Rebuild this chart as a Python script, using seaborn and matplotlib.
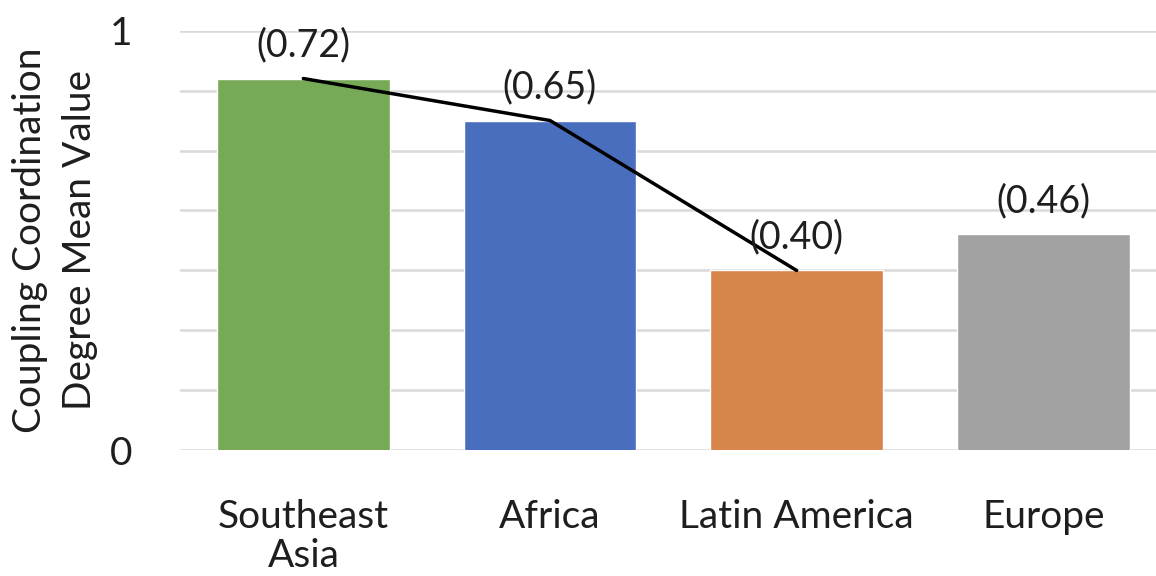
import numpy as np
import pandas as pd
import matplotlib
matplotlib.use("Agg")
import matplotlib.pyplot as plt
import seaborn as sns

# Regional coupling coordination degree means
regions = ["Southeast\nAsia", "Africa", "Latin America", "Europe"]
mean_values = [0.72, 0.65, 0.40, 0.46]
value_labels = ["(0.72)", "(0.65)", "(0.40)", "(0.46)"]
bar_colors = ["#77AA57", "#4A6EBE", "#D8854C", "#A2A2A2"]
trend_regions = 3  # trend line joins the first three regions
grid_levels = [0.1, 0.2, 0.3, 0.4, 0.5, 0.6, 0.7, 0.8]
end_tick_labels = ["0", "1"]
y_title = "Coupling Coordination\nDegree Mean Value"

sns.set_theme(style="white")
plt.rcParams["font.family"] = ["Lato", "DejaVu Sans"]
text_color = "#1E1E1E"

df = pd.DataFrame({"region": regions, "value": mean_values})

fig = plt.figure(figsize=(11.56, 5.76), dpi=100)
ax_bottom, ax_height = 0.218, 0.729
ax = fig.add_axes([0.1557, ax_bottom, 0.8535, ax_height])

sns.barplot(data=df, x="region", y="value", hue="region",
            palette=bar_colors, width=0.70, saturation=1,
            legend=False, ax=ax, zorder=3)

# trend line through the tops of the first three bars
ax.plot(range(trend_regions), mean_values[:trend_regions],
        color="black", lw=2.5, zorder=4, solid_capstyle="round")

for i, (v, lab) in enumerate(zip(mean_values, value_labels)):
    ax.annotate(lab, (i, v), xytext=(0, 24), textcoords="offset points",
                ha="center", va="center", fontsize=27, color=text_color,
                zorder=5)

ax.set_ylim(grid_levels[0], grid_levels[-1])
ax.set_xlim(-0.5, 3.5)
ax.set_yticks(grid_levels)
ticklabels = [""] * len(grid_levels)
ticklabels[0], ticklabels[-1] = end_tick_labels
ax.set_yticklabels(ticklabels)
ax.yaxis.grid(True, color="#D9D9D9", lw=1.8, zorder=0)
ax.set_axisbelow(True)
for s in ax.spines.values():
    s.set_visible(False)

ax.tick_params(axis="y", length=0, pad=34, labelsize=28, labelcolor=text_color)
ax.tick_params(axis="x", length=0, pad=35, labelsize=28, labelcolor=text_color)
for lbl in ax.get_xticklabels():
    lbl.set_linespacing(1.1)
ax.set_xlabel("")
ax.set_ylabel("")

fig.text(55 / 1156, ax_bottom + ax_height / 2, y_title, rotation=90,
         ha="center", va="center", multialignment="center",
         fontsize=28, color=text_color, linespacing=1.45)

fig.savefig("out.png", dpi=100)
